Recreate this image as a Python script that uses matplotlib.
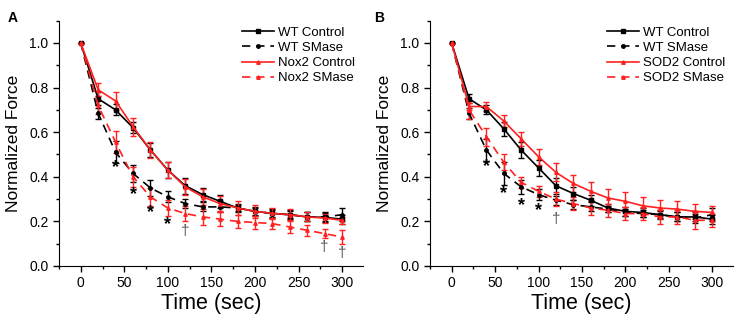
import matplotlib
matplotlib.use("Agg")
import matplotlib.pyplot as plt
from matplotlib.lines import Line2D
import numpy as np

plt.rcParams['font.family'] = ['Liberation Sans', 'DejaVu Sans']

time = [0, 20, 40, 60, 80, 100, 120, 140, 160, 180, 200, 220, 240, 260, 280, 300]

# Panel A
wt_ctrl_A = [1.0, 0.75, 0.70, 0.62, 0.52, 0.43, 0.36, 0.32, 0.29, 0.26, 0.245, 0.236, 0.23, 0.22, 0.218, 0.21]
wt_ctrl_A_err = [0, 0.03, 0.025, 0.025, 0.03, 0.035, 0.035, 0.03, 0.03, 0.02, 0.02, 0.02, 0.02, 0.02, 0.02, 0.02]
wt_smase_A = [1.0, 0.685, 0.51, 0.415, 0.35, 0.31, 0.28, 0.265, 0.265, 0.26, 0.245, 0.235, 0.23, 0.22, 0.22, 0.23]
wt_smase_A_err = [0, 0.025, 0.05, 0.04, 0.035, 0.025, 0.02, 0.02, 0.025, 0.015, 0.015, 0.015, 0.015, 0.02, 0.02, 0.03]
nox_ctrl = [1.0, 0.79, 0.74, 0.625, 0.52, 0.43, 0.355, 0.31, 0.28, 0.26, 0.245, 0.236, 0.23, 0.22, 0.215, 0.205]
nox_ctrl_err = [0, 0.03, 0.04, 0.04, 0.035, 0.035, 0.035, 0.035, 0.035, 0.03, 0.03, 0.025, 0.025, 0.02, 0.02, 0.015]
nox_smase = [1.0, 0.72, 0.555, 0.40, 0.31, 0.26, 0.235, 0.22, 0.21, 0.20, 0.195, 0.19, 0.175, 0.16, 0.145, 0.13]
nox_smase_err = [0, 0.04, 0.05, 0.045, 0.04, 0.035, 0.035, 0.035, 0.03, 0.03, 0.03, 0.025, 0.025, 0.025, 0.02, 0.03]

# Panel B
wt_ctrl_B = [1.0, 0.75, 0.70, 0.615, 0.52, 0.44, 0.36, 0.325, 0.295, 0.26, 0.245, 0.24, 0.23, 0.22, 0.22, 0.21]
wt_ctrl_B_err = [0, 0.02, 0.02, 0.03, 0.035, 0.035, 0.035, 0.03, 0.025, 0.02, 0.02, 0.02, 0.02, 0.02, 0.02, 0.02]
wt_smase_B = [1.0, 0.685, 0.52, 0.415, 0.355, 0.32, 0.295, 0.275, 0.265, 0.255, 0.24, 0.235, 0.23, 0.22, 0.215, 0.23]
wt_smase_B_err = [0, 0.025, 0.05, 0.05, 0.03, 0.025, 0.02, 0.02, 0.02, 0.015, 0.015, 0.015, 0.015, 0.02, 0.02, 0.03]
sod_ctrl = [1.0, 0.715, 0.715, 0.65, 0.57, 0.49, 0.42, 0.37, 0.335, 0.305, 0.29, 0.27, 0.26, 0.255, 0.245, 0.24]
sod_ctrl_err = [0, 0.015, 0.02, 0.025, 0.03, 0.035, 0.04, 0.04, 0.04, 0.04, 0.04, 0.04, 0.035, 0.035, 0.035, 0.03]
sod_smase = [1.0, 0.70, 0.58, 0.465, 0.375, 0.335, 0.30, 0.28, 0.26, 0.25, 0.235, 0.235, 0.22, 0.22, 0.205, 0.205]
sod_smase_err = [0, 0.04, 0.04, 0.035, 0.025, 0.025, 0.03, 0.03, 0.03, 0.03, 0.03, 0.03, 0.03, 0.03, 0.04, 0.03]

# significance marks
star_t_A = [40, 60, 80, 100]
star_y_A = [0.44, 0.32, 0.24, 0.185]
dag_t_A = [120, 280, 300]
dag_y_A = [0.155, 0.087, 0.057]
star_t_B = [40, 60, 80, 100]
star_y_B = [0.445, 0.325, 0.27, 0.25]
dag_t_B = [120]
dag_y_B = [0.21]

RED = '#ff2020'

fig = plt.figure(figsize=(7.37, 3.23), dpi=100)
axA = fig.add_axes([0.080, 0.1765, 0.4125, 0.7595])
axB = fig.add_axes([0.5834, 0.1765, 0.4112, 0.7595])

def draw(ax, series, labels, stars, daggers):
    styles = [
        dict(color='black', ls='-', marker='s'),
        dict(color='black', ls=(0, (5, 3.5)), marker='o'),
        dict(color=RED, ls='-', marker='^'),
        dict(color=RED, ls=(0, (5, 3.5)), marker='^'),
    ]
    handles = []
    for (y, e), lab, st in zip(series, labels, styles):
        ax.errorbar(time, y, yerr=e, color=st['color'], ls=st['ls'], lw=1.2,
                    marker=st['marker'], ms=2.5, capsize=2.5, capthick=1.0,
                    elinewidth=1.0)
        handles.append(Line2D([], [], color=st['color'], ls=st['ls'], lw=1.2,
                              marker=st['marker'], ms=2.5, label=lab))
    for t, y in zip(*stars):
        ax.text(t, y, '*', ha='center', va='center', fontsize=13, fontweight='bold')
    for t, y in zip(*daggers):
        ax.text(t, y, '\u2020', ha='center', va='center', fontsize=11, color='#555555')
    ax.set_xlim(-25, 324)
    ax.set_ylim(0, 1.1)
    ax.set_xticks([0, 50, 100, 150, 200, 250, 300])
    ax.set_xticks(np.arange(-25, 325, 25), minor=True)
    ax.set_yticks([0.0, 0.2, 0.4, 0.6, 0.8, 1.0])
    ax.set_yticks(np.arange(0.1, 1.11, 0.2), minor=True)
    ax.set_yticklabels(['0.0', '0.2', '0.4', '0.6', '0.8', '1.0'])
    ax.tick_params(which='major', direction='out', length=4, width=1, labelsize=10)
    ax.tick_params(which='minor', direction='out', length=2.5, width=1)
    ax.spines['top'].set_visible(False)
    ax.spines['right'].set_visible(False)
    ax.set_xlabel('Time (sec)', fontsize=15.5, labelpad=2)
    ax.set_ylabel('Normalized Force', fontsize=12.5, labelpad=6)
    ax.legend(handles=handles, loc='upper right', bbox_to_anchor=(1.0, 1.008), frameon=False,
              fontsize=9.5, handlelength=2.4, handletextpad=0.3, labelspacing=0.22,
              borderaxespad=0.2)

draw(axA, [(wt_ctrl_A, wt_ctrl_A_err), (wt_smase_A, wt_smase_A_err),
           (nox_ctrl, nox_ctrl_err), (nox_smase, nox_smase_err)],
     ['WT Control', 'WT SMase', 'Nox2 Control', 'Nox2 SMase'],
     (star_t_A, star_y_A), (dag_t_A, dag_y_A))
draw(axB, [(wt_ctrl_B, wt_ctrl_B_err), (wt_smase_B, wt_smase_B_err),
           (sod_ctrl, sod_ctrl_err), (sod_smase, sod_smase_err)],
     ['WT Control', 'WT SMase', 'SOD2 Control', 'SOD2 SMase'],
     (star_t_B, star_y_B), (dag_t_B, dag_y_B))

fig.text(0.010, 0.965, 'A', fontsize=10, fontweight='bold', va='top')
fig.text(0.508, 0.965, 'B', fontsize=10, fontweight='bold', va='top')

fig.savefig('out.png', dpi=100)
